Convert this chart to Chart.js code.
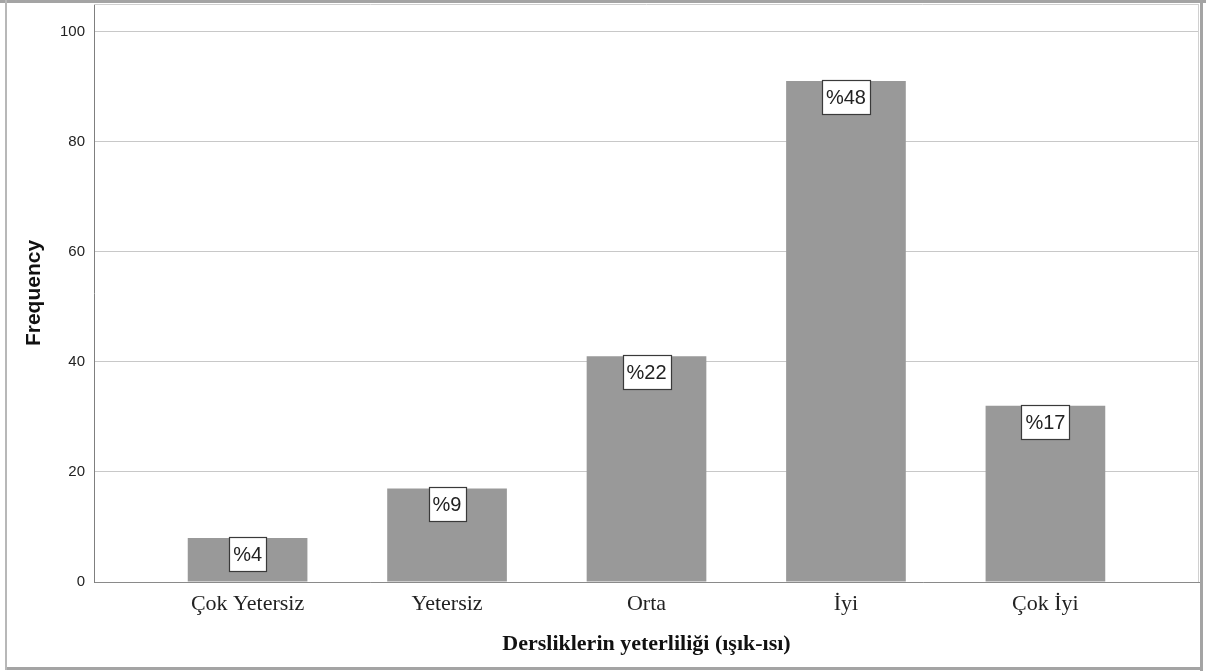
<!DOCTYPE html>
<html><head><meta charset="utf-8">
<script src="https://cdn.jsdelivr.net/npm/chart.js@4/dist/chart.umd.min.js"></script>
<style>html,body{margin:0;padding:0;background:#fff;overflow:hidden}#wrap{width:1206px;height:671px;position:relative}</style>
</head><body><div id="wrap"><canvas id="c" width="1206" height="671"></canvas></div>
<script>
const categories = ['Çok Yetersiz', 'Yetersiz', 'Orta', 'İyi', 'Çok İyi'];
const frequencies = [8, 17, 41, 91, 32];
const percentLabels = ['%4', '%9', '%22', '%48', '%17'];
const yTickValues = [0, 20, 40, 60, 80, 100];
const xAxisTitle = 'Dersliklerin yeterliliği (ışık-ısı)';
const yAxisTitle = 'Frequency';

const labelBoxes = {
  id: 'labelBoxes',
  afterDatasetsDraw(chart) {
    const ctx = chart.ctx;
    const meta = chart.getDatasetMeta(0);
    ctx.save();
    ctx.font = '20px "Liberation Sans", Arial, sans-serif';
    ctx.textAlign = 'center';
    ctx.textBaseline = 'middle';
    meta.data.forEach((el, i) => {
      const txt = percentLabels[i];
      const w = Math.round(ctx.measureText(txt).width + 8);
      const h = 34;
      const x0 = Math.round(el.x - w / 2) + 0.5;
      const y0 = Math.round(el.y - 1) + 0.5;
      ctx.fillStyle = '#ffffff';
      ctx.fillRect(x0, y0, w, h);
      ctx.strokeStyle = '#3a3a3a';
      ctx.lineWidth = 1.2;
      ctx.strokeRect(x0, y0, w, h);
      ctx.fillStyle = '#222';
      ctx.fillText(txt, el.x, y0 + h / 2 + 1);
    });
    ctx.restore();
  }
};

const frame = {
  id: 'frame',
  afterDraw(chart) {
    const ctx = chart.ctx;
    const a = chart.chartArea;
    ctx.save();
    ctx.strokeStyle = '#d0d0d0';
    ctx.lineWidth = 1;
    ctx.beginPath();
    ctx.moveTo(a.left, a.top + 0.5); ctx.lineTo(a.right, a.top + 0.5);
    ctx.moveTo(a.right - 0.5, a.top); ctx.lineTo(a.right - 0.5, a.bottom);
    ctx.stroke();
    ctx.fillStyle = '#a4a4a4';
    ctx.fillRect(0, 0, 1206, 3);
    ctx.fillRect(1200, 0, 3, 671);
    ctx.fillRect(5, 667, 1198, 3);
    ctx.fillStyle = '#b8b8b8';
    ctx.fillRect(5, 0, 2, 670);
    ctx.restore();
  }
};

new Chart(document.getElementById('c'), {
  type: 'bar',
  data: {
    datasets: [{
      data: frequencies.map((v, i) => ({ x: i, y: v })),
      backgroundColor: '#999999',
      borderWidth: 0,
      barPercentage: 0.6,
      categoryPercentage: 1
    }]
  },
  options: {
    responsive: false,
    animation: false,
    devicePixelRatio: 1,
    layout: { padding: { left: 7, right: 7, top: 4, bottom: 4 } },
    plugins: { legend: { display: false }, tooltip: { enabled: false } },
    scales: {
      x: {
        type: 'linear',
        offset: false,
        min: -0.77,
        max: 4.77,
        afterBuildTicks(scale) { scale.ticks = categories.map((_, i) => ({ value: i })); },
        afterFit(scale) { scale.height = 85; scale.paddingLeft = 0; scale.paddingRight = 0; },
        grid: { display: false, drawTicks: false, offset: false },
        border: { display: true, color: '#8a8a8a', width: 1 },
        ticks: {
          autoSkip: false, maxRotation: 0, padding: 9,
          color: '#222',
          font: { family: '"Liberation Serif", "Times New Roman", serif', size: 22 },
          callback: (v) => categories[v]
        },
        title: {
          display: true, text: xAxisTitle, color: '#111',
          font: { family: '"Liberation Serif", "Times New Roman", serif', size: 22, weight: 'bold' },
          padding: { top: 0, bottom: 9 }
        }
      },
      y: {
        min: 0,
        max: 105,
        afterBuildTicks(scale) { scale.ticks = yTickValues.map(v => ({ value: v })); },
        afterFit(scale) { scale.width = 87; scale.paddingTop = 0; scale.paddingBottom = 0; },
        grid: { color: '#c8c8c8', lineWidth: 1, drawTicks: false },
        border: { display: true, color: '#7f7f7f', width: 1 },
        ticks: {
          padding: 9, color: '#222',
          font: { family: '"Liberation Sans", Arial, sans-serif', size: 15 }
        },
        title: {
          display: true, text: yAxisTitle, color: '#111',
          font: { family: '"Liberation Sans", Arial, sans-serif', size: 21, weight: 'bold' },
          padding: { top: 15, bottom: 0 }
        }
      }
    }
  },
  plugins: [labelBoxes, frame]
});
</script>
</body></html>
